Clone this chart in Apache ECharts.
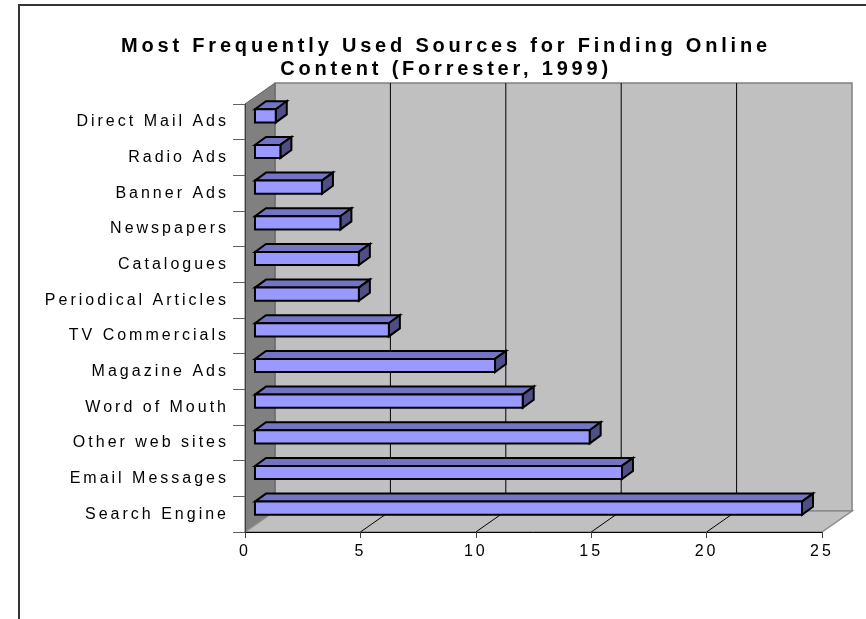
<!DOCTYPE html>
<html>
<head>
<meta charset="utf-8">
<script src="https://cdn.jsdelivr.net/npm/echarts@6/dist/echarts.min.js"></script>
<style>
  html, body { margin: 0; padding: 0; background: #ffffff; }
  #chart { width: 866px; height: 619px; }
</style>
</head>
<body>
<div id="chart"></div>
<script>
// ---- data ----
const titleLines = ['Most Frequently Used Sources for Finding Online', 'Content (Forrester, 1999)'];
const categories = ['Direct Mail Ads', 'Radio Ads', 'Banner Ads', 'Newspapers', 'Catalogues',
  'Periodical Articles', 'TV Commercials', 'Magazine Ads', 'Word of Mouth', 'Other web sites',
  'Email Messages', 'Search Engine'];
const values = [0.9, 1.1, 2.9, 3.7, 4.5, 4.5, 5.8, 10.4, 11.6, 14.5, 15.9, 23.7];
const valueTicks = [0, 5, 10, 15, 20, 25];

// wide letter spacing like the original metafile text
(function () {
  const P = CanvasRenderingContext2D.prototype;
  const orig = P.fillText;
  P.fillText = function (t, x, y, w) {
    const has = 'letterSpacing' in this;
    if (has) this.letterSpacing = /bold/.test(this.font) ? '3.8px' : '3px';
    const r = (w === undefined) ? orig.call(this, t, x, y) : orig.call(this, t, x, y, w);
    if (has) this.letterSpacing = '0px';
    return r;
  };
})();

const FONT = "'Liberation Sans', Arial, sans-serif";
const DEPTH = [30, -21];          // wall depth offset
const BAR_OFF = [10, -6];         // bar front face offset (about 1/3 of depth)
const BAR_DEPTH = [11, -8];       // bar thickness in depth

const chart = echarts.init(document.getElementById('chart'), null, { renderer: 'canvas' });

function wallsRender(params, api) {
  const n = categories.length;
  const vMin = valueTicks[0], vMax = valueTicks[valueTicks.length - 1];
  const band = api.size([0, 1])[1];
  const top = api.coord([vMin, 0])[1] - band / 2;
  const bottom = api.coord([vMin, n - 1])[1] + band / 2;
  const x0 = api.coord([vMin, 0])[0];
  const x1 = api.coord([vMax, 0])[0];
  const dx = DEPTH[0], dy = DEPTH[1];
  const children = [];
  children.push({ type: 'rect', shape: { x: x0 + dx, y: top + dy, width: x1 - x0, height: bottom - top },
    style: { fill: '#C0C0C0', stroke: '#808080', lineWidth: 1.5 } });
  children.push({ type: 'polygon', shape: { points: [[x0, top], [x0 + dx, top + dy], [x0 + dx, bottom + dy], [x0, bottom]] },
    style: { fill: '#808080', stroke: '#606060', lineWidth: 1 } });
  children.push({ type: 'polygon', shape: { points: [[x0, bottom], [x1, bottom], [x1 + dx, bottom + dy], [x0 + dx, bottom + dy]] },
    style: { fill: '#C0C0C0', stroke: '#8C8C8C', lineWidth: 1.5 } });
  valueTicks.forEach(function (v) {
    if (v === vMin || v === vMax) return;
    const xv = api.coord([v, 0])[0];
    children.push({ type: 'line', shape: { x1: xv + dx, y1: top + dy, x2: xv + dx, y2: bottom + dy },
      style: { stroke: '#000000', lineWidth: 1 } });
    children.push({ type: 'line', shape: { x1: xv, y1: bottom, x2: xv + dx, y2: bottom + dy },
      style: { stroke: '#000000', lineWidth: 1 } });
  });
  return { type: 'group', children: children };
}

function barRender(params, api) {
  const v = api.value(0), c = api.value(1);
  const start = api.coord([0, c]);
  const end = api.coord([v, c]);
  const band = api.size([0, 1])[1];
  const h = band * 0.37;
  const fx0 = start[0] + BAR_OFF[0], fx1 = end[0] + BAR_OFF[0];
  const cy = start[1] + BAR_OFF[1];
  const fy0 = cy - h / 2, fy1 = cy + h / 2;
  const ddx = BAR_DEPTH[0], ddy = BAR_DEPTH[1];
  const st = { stroke: '#000000', lineWidth: 2, lineJoin: 'miter' };
  return {
    type: 'group',
    children: [
      { type: 'polygon', shape: { points: [[fx0, fy0], [fx1, fy0], [fx1 + ddx, fy0 + ddy], [fx0 + ddx, fy0 + ddy]] },
        style: Object.assign({ fill: '#7474C4' }, st) },
      { type: 'polygon', shape: { points: [[fx1, fy0], [fx1 + ddx, fy0 + ddy], [fx1 + ddx, fy1 + ddy], [fx1, fy1]] },
        style: Object.assign({ fill: '#4F4F86' }, st) },
      { type: 'rect', shape: { x: fx0, y: fy0, width: fx1 - fx0, height: fy1 - fy0 },
        style: Object.assign({ fill: '#9999FF' }, st) }
    ]
  };
}

const option = {
  backgroundColor: '#ffffff',
  animation: false,
  title: {
    text: titleLines.join('\n'),
    left: 446,
    top: 35,
    padding: 0,
    textAlign: 'center',
    textStyle: { fontFamily: FONT, fontSize: 20, fontWeight: 'bold', color: '#000000', lineHeight: 23 }
  },
  graphic: [{
    type: 'rect', silent: true, z: -10,
    shape: { x: 19, y: 5, width: 900, height: 700 },
    style: { fill: 'none', stroke: '#333333', lineWidth: 2 }
  }],
  grid: { left: 245, right: 44, top: 104, bottom: 87, containLabel: false },
  xAxis: {
    type: 'value', min: valueTicks[0], max: valueTicks[valueTicks.length - 1], interval: 5, z: 3,
    axisLine: { show: true, lineStyle: { color: '#000000', width: 1 } },
    axisTick: { show: true, length: 6, lineStyle: { color: '#404040' } },
    axisLabel: { margin: 12, fontFamily: FONT, fontSize: 16, color: '#000000' },
    splitLine: { show: false }
  },
  yAxis: {
    type: 'category', data: categories, inverse: true, z: 3,
    axisLine: { show: true, lineStyle: { color: '#404040', width: 1 } },
    axisTick: { show: true, length: 12, lineStyle: { color: '#606060' } },
    axisLabel: { margin: 16, fontFamily: FONT, fontSize: 16, color: '#000000' },
    splitLine: { show: false }
  },
  series: [
    {
      type: 'custom', name: 'walls', z: 1, silent: true, clip: false,
      renderItem: wallsRender,
      encode: { x: 0, y: 1 },
      data: [[0, 0]]
    },
    {
      type: 'custom', name: 'Sources', z: 4, clip: false,
      renderItem: barRender,
      encode: { x: 0, y: 1 },
      data: values.map(function (v, i) { return [v, i]; })
    }
  ]
};
chart.setOption(option);
</script>
</body>
</html>
